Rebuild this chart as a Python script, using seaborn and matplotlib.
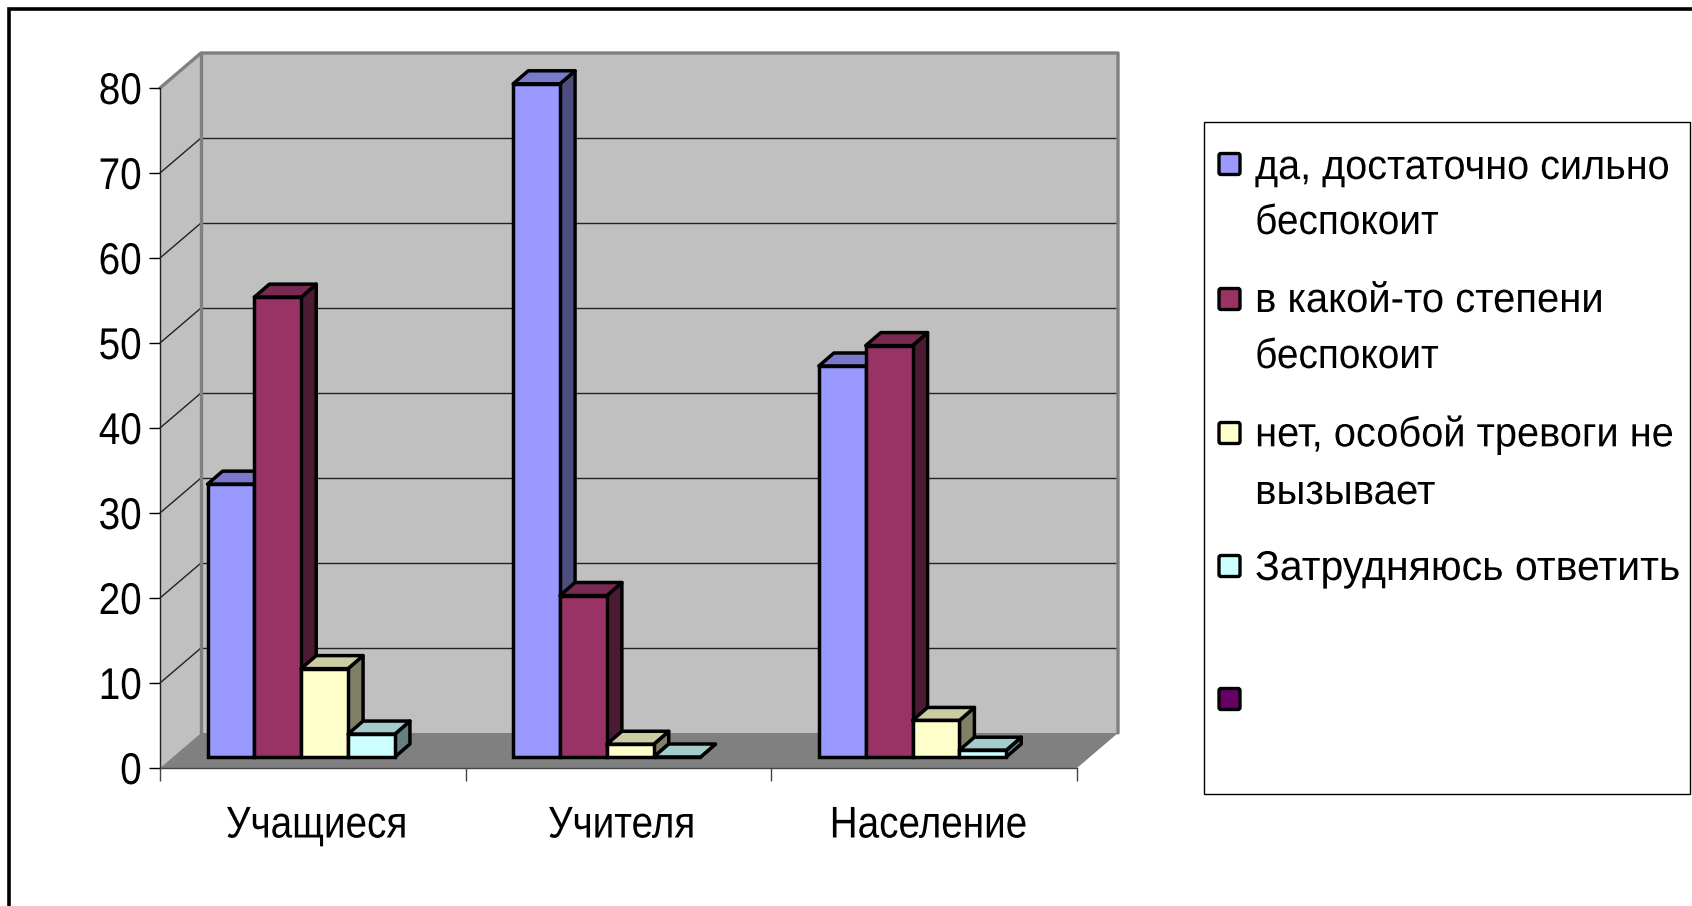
import matplotlib
matplotlib.use("Agg")
import matplotlib.pyplot as plt
from matplotlib.patches import Polygon, Rectangle, FancyBboxPatch
from matplotlib.patheffects import AbstractPathEffect
from matplotlib.transforms import Affine2D, IdentityTransform
from matplotlib.colors import to_rgb
import pandas as pd
import seaborn as sns

categories = ["Учащиеся", "Учителя", "Население"]
series = ["да, достаточно сильно беспокоит", "в какой-то степени беспокоит",
          "нет, особой тревоги не вызывает", "Затрудняюсь ответить"]
yes_values = [32.1, 79.2, 46.0]
somewhat_values = [54.1, 19.0, 48.4]
no_values = [10.4, 1.5, 4.3]
unsure_values = [2.7, 0.0, 0.8]
y_ticks = [0, 10, 20, 30, 40, 50, 60, 70, 80]
colors = ["#9999FF", "#993366", "#FFFFCC", "#CCFFFF"]
empty_color = "#660066"
legend_rows = [["да, достаточно сильно", "беспокоит"], ["в какой-то степени", "беспокоит"],
               ["нет, особой тревоги не", "вызывает"], ["Затрудняюсь ответить"], []]

W, H = 1692, 906
sns.set_theme(style="white")
plt.rcParams["font.family"] = ["Liberation Sans", "DejaVu Sans"]


class Squeeze(AbstractPathEffect):
    """Narrow a text horizontally, the original uses a condensed Arial."""

    def __init__(self, sx, anchor=0.5):
        super().__init__()
        self.sx, self.anchor = sx, anchor

    def draw_path(self, renderer, gc, tpath, affine, rgbFace=None):
        ext = tpath.get_extents()
        c = ext.x0 + self.anchor * ext.width
        aff = Affine2D().translate(-c, 0).scale(self.sx, 1).translate(c, 0) + affine
        renderer.draw_path(gc, tpath, aff, rgbFace)


df = pd.DataFrame({"group": categories * 4,
                   "answer": sum([[s] * 3 for s in series], []),
                   "value": yes_values + somewhat_values + no_values + unsure_values})

fig = plt.figure(figsize=(W / 100, H / 100), dpi=100, facecolor="white")
ax = fig.add_axes([160 / W, 1 - 768 / H, 917 / W, 680 / H], facecolor="none")
sns.barplot(df, x="group", y="value", hue="answer", palette=dict(zip(series, colors)),
            width=0.613, gap=0, dodge=True, legend=False, saturation=1,
            edgecolor="black", linewidth=2.5, ax=ax)
ax.set_xlim(-0.5, 2.5)
ax.set_ylim(0, 80)
ax.set_xlabel("")
ax.set_ylabel("")

# ---------- axes ----------
ax.set_yticks(y_ticks)
ax.set_xticks([-0.5, 0.5, 1.5, 2.5], labels=[])
ax.set_xticks([0, 1, 2], labels=categories, minor=True)
ax.tick_params(axis="y", length=8, width=1, color="black", pad=5, labelsize=32,
               left=True, labelcolor="black")
ax.tick_params(axis="x", which="major", length=9, width=1, color="#444444", bottom=True)
ax.tick_params(axis="x", which="minor", length=0, pad=27, labelsize=32, labelcolor="black")
for lab in ax.get_yticklabels():
    lab.set_path_effects([Squeeze(0.87, anchor=1)])
for lab in ax.get_xticklabels(minor=True):
    lab.set_path_effects([Squeeze(0.87, anchor=0.65)])
for s in ["top", "right"]:
    ax.spines[s].set_visible(False)
ax.spines["left"].set_color("#222222")
ax.spines["bottom"].set_color("#444444")
ax.spines["left"].set_linewidth(1)
ax.spines["bottom"].set_linewidth(1)

# ---------- walls and floor (3D look, depth given in pixels) ----------
DX, DY = 41, 35
back = ax.transData + Affine2D().translate(DX, DY)
px = IdentityTransform()
x0, x1 = ax.get_xlim()
(xa, ya), (xb, yb) = ax.transData.transform([(x0, 0), (x1, 80)])

ax.add_patch(Rectangle((x0, 0), x1 - x0, 80, transform=back, fc="#C0C0C0", ec="none",
                       clip_on=False, zorder=0.1))
ax.add_patch(Polygon([(xa, ya), (xa + DX, ya + DY), (xa + DX, yb + DY), (xa, yb)], transform=px,
                     fc="#C0C0C0", ec="none", clip_on=False, zorder=0.1))
for v in y_ticks[1:-1]:
    ax.plot([x0, x1], [v, v], transform=back, color="#222222", lw=1, clip_on=False, zorder=0.2)
    yv = ax.transData.transform((x0, v))[1]
    ax.plot([xa, xa + DX], [yv, yv + DY], transform=px, color="#222222", lw=1, clip_on=False, zorder=0.2)
ax.plot([xa, xa + DX, xb + DX, xb + DX], [yb, yb + DY, yb + DY, ya + DY], transform=px,
        color="#808080", lw=2.4, clip_on=False, zorder=0.3)
ax.plot([xa + DX, xa + DX], [ya + DY, yb + DY], transform=px, color="#808080", lw=2.4,
        clip_on=False, zorder=0.3)
ax.add_patch(Polygon([(xa, ya), (xa + DX, ya + DY), (xb + DX, ya + DY), (xb, ya)], transform=px,
                     fc="#808080", ec="none", clip_on=False, zorder=0.4))

# ---------- bars: shift off the front plane, add top and side faces ----------
SHIFT_X, SHIFT_Y = -11.6, 11
BAR_DX, BAR_DY = 15, 13
shift = ax.transData + Affine2D().translate(SHIFT_X, SHIFT_Y)
for h, cont in enumerate(ax.containers):
    base = to_rgb(colors[h])
    top_c = tuple(c * 0.8 for c in base)
    side_c = tuple(c * 0.5 for c in base)
    for c, bar in enumerate(cont):
        z = 2 + c + h * 0.1
        bar.set_transform(shift)
        bar.set_clip_on(False)
        bar.set_zorder(z + 0.02)
        bar.set_joinstyle("miter")
        (l, b), (r, t) = shift.transform([(bar.get_x(), 0),
                                          (bar.get_x() + bar.get_width(), bar.get_height())])
        top = [(l, t), (l + BAR_DX, t + BAR_DY), (r + BAR_DX, t + BAR_DY), (r, t)]
        side = [(r, t), (r + BAR_DX, t + BAR_DY), (r + BAR_DX, b + BAR_DY), (r, b)]
        for pts, col in ((side, side_c), (top, top_c)):
            ax.add_patch(Polygon(pts, transform=px, fc=col, ec="black", lw=2.5, joinstyle="round",
                                 clip_on=False, zorder=z))

# ---------- overlay in pixels: frame and legend ----------
over = fig.add_axes([0, 0, 1, 1], facecolor="none")
over.set_xlim(0, W)
over.set_ylim(H, 0)
over.axis("off")
over.plot([9, 9, W], [H, 9, 9], color="black", lw=2.6, solid_joinstyle="miter")
over.add_patch(Rectangle((1204, 122), 486, 672, fc="white", ec="black", lw=1))

swatch_y = [164, 299, 433, 566, 699]
line_y = [[168, 223], [301, 357], [435, 493], [569], []]
line_sx = [[0.95, 0.93], [0.96, 0.93], [0.955, 0.965], [0.985], []]
for col, sy, rows, ys, sxs in zip(colors + [empty_color], swatch_y, legend_rows, line_y, line_sx):
    over.add_patch(FancyBboxPatch((1219, sy - 10.5), 21, 21, boxstyle="round,pad=0,rounding_size=2",
                                  fc=col, ec="black", lw=2.4))
    for txt, y, sx in zip(rows, ys, sxs):
        over.text(1255, y, txt, fontsize=30, va="center", ha="left", color="black",
                  path_effects=[Squeeze(sx, anchor=0)])

fig.savefig("out.png", dpi=100)
